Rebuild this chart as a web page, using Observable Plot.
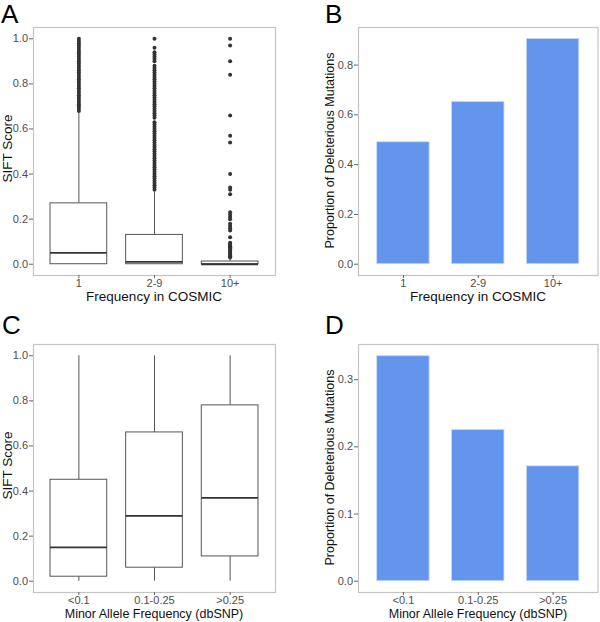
<!DOCTYPE html>
<html>
<head>
<meta charset="utf-8">
<script src="https://cdn.jsdelivr.net/npm/d3@7"></script>
<script src="https://cdn.jsdelivr.net/npm/@observablehq/plot@0.6"></script>
<style>
  html, body { margin: 0; padding: 0; background: #fff; }
  #root { position: relative; width: 600px; height: 622px; overflow: hidden; font-family: "Liberation Sans", Arial, sans-serif; }
  .panel { position: absolute; }
  .letter { position: absolute; font-size: 26px; line-height: 29px; color: #000; font-family: "Liberation Sans", Arial, sans-serif; }
  .xt { position: absolute; line-height: 14px; color: #111; text-align: center; white-space: nowrap; }
  .yt { position: absolute; line-height: 15px; color: #111; text-align: center; white-space: nowrap; transform: rotate(-90deg); }
</style>
</head>
<body>
<div id="root"></div>
<script>
// ---------- Data ----------
// Panel A: SIFT score by frequency in COSMIC (box summary)
const cosmicCats = ["1", "2-9", "10+"];
const cosmicLow = [0, 0, 0];
const cosmicQ1 = [0, 0, 0];
const cosmicMedian = [0.05, 0.01, 0.0];
const cosmicQ3 = [0.27, 0.13, 0.012];
const cosmicHigh = [0.67, 0.32, 0.025];
const outliers1 = [0.68,0.69,0.70,0.71,0.72,0.73,0.74,0.75,0.76,0.77,0.78,0.79,0.80,0.81,0.82,0.83,0.84,0.85,0.86,0.87,0.88,0.89,0.90,0.91,0.92,0.93,0.94,0.95,0.96,0.97,0.98,0.99,1.00];
const outliers29 = [0.33,0.34,0.35,0.36,0.37,0.38,0.39,0.40,0.41,0.42,0.43,0.44,0.45,0.46,0.47,0.48,0.49,0.50,0.51,0.52,0.53,0.54,0.55,0.56,0.57,0.58,0.59,0.60,0.61,0.62,0.63,0.65,0.66,0.67,0.68,0.69,0.70,0.71,0.72,0.73,0.74,0.75,0.76,0.77,0.78,0.79,0.80,0.81,0.82,0.83,0.84,0.85,0.86,0.87,0.88,0.90,0.91,0.92,0.93,0.94,0.96,1.00];
const outliers10 = [1.00,0.97,0.90,0.84,0.66,0.57,0.54,0.40,0.34,0.33,0.31,0.23,0.22,0.21,0.20,0.18,0.17,0.16,0.15,0.12,0.095,0.09,0.085,0.08,0.075,0.07,0.065,0.06,0.055,0.05,0.045,0.04,0.035,0.03];

// Panel B: proportion of deleterious mutations by COSMIC frequency
const cosmicProportion = [0.49, 0.652, 0.905];

// Panel C: SIFT score by minor allele frequency (box summary)
const mafCats = ["<0.1", "0.1-0.25", ">0.25"];
const mafLow = [0, 0, 0];
const mafQ1 = [0.02, 0.06, 0.11];
const mafMedian = [0.15, 0.29, 0.37];
const mafQ3 = [0.45, 0.66, 0.78];
const mafHigh = [1.0, 1.0, 1.0];

// Panel D: proportion of deleterious mutations by minor allele frequency
const mafProportion = [0.335, 0.225, 0.171];

// Tick labels
const siftTicks = [0, 0.2, 0.4, 0.6, 0.8, 1.0];
const propTicksB = [0, 0.2, 0.4, 0.6, 0.8];
const propTicksD = [0, 0.1, 0.2, 0.3];

// Titles
const titleSift = "SIFT Score";
const titleProp = "Proportion of Deleterious Mutations";
const titleCosmic = "Frequency in COSMIC";
const titleMaf = "Minor Allele Frequency (dbSNP)";

// ---------- Build tables ----------
const boxRows = (cats, lo, q1, med, q3, hi) =>
  cats.map((c, i) => ({cat: c, lo: lo[i], q1: q1[i], med: med[i], q3: q3[i], hi: hi[i]}));
const cosmicBoxes = boxRows(cosmicCats, cosmicLow, cosmicQ1, cosmicMedian, cosmicQ3, cosmicHigh);
const mafBoxes = boxRows(mafCats, mafLow, mafQ1, mafMedian, mafQ3, mafHigh);
const cosmicOutliers = [
  ...outliers1.map(v => ({cat: "1", v})),
  ...outliers29.map(v => ({cat: "2-9", v})),
  ...outliers10.map(v => ({cat: "10+", v}))
];
const cosmicBars = cosmicCats.map((c, i) => ({cat: c, p: cosmicProportion[i]}));
const mafBars = mafCats.map((c, i) => ({cat: c, p: mafProportion[i]}));

const FONT = "Liberation Sans, Arial, sans-serif";
const root = document.getElementById("root");

function place(node, left, top) {
  const d = document.createElement("div");
  d.className = "panel";
  d.style.left = left + "px";
  d.style.top = top + "px";
  d.appendChild(node);
  root.appendChild(d);
}

function xScale(cats, width) {
  return {type: "band", domain: cats, paddingInner: 1 - width, paddingOuter: 0.6 - width / 2, align: 0.5, round: false, label: null};
}

function axes(ticks) {
  return [
    Plot.axisX({tickSize: 3, tickPadding: 0.5, fontSize: 11, label: null, stroke: "#666"}),
    Plot.axisY({ticks, tickFormat: d3.format(".1f"), tickSize: 4, tickPadding: 1.5, fontSize: 11, label: null, stroke: "#666"})
  ];
}

function boxPanel(boxes, outliers, cats, ticks, m) {
  const marks = [
    Plot.frame({stroke: "#c4c4c4", strokeWidth: 1.2}),
    Plot.ruleX(boxes, {x: "cat", y1: "q3", y2: "hi", stroke: "#555", strokeWidth: 1}),
    Plot.ruleX(boxes, {x: "cat", y1: "lo", y2: "q1", stroke: "#555", strokeWidth: 1}),
    Plot.barY(boxes, {x: "cat", y1: "q1", y2: "q3", fill: "#fff", stroke: "#555", strokeWidth: 1}),
    Plot.tickY(boxes, {x: "cat", y: "med", stroke: "#333", strokeWidth: 1.8})
  ];
  if (outliers) marks.push(Plot.dot(outliers, {x: "cat", y: "v", r: 2, fill: "#333", stroke: "none"}));
  marks.push(...axes(ticks));
  return Plot.plot({
    width: 300, height: m.h,
    marginLeft: m.l, marginRight: m.r, marginTop: m.t, marginBottom: m.b,
    style: {fontFamily: FONT, color: "#4d4d4d", background: "transparent", overflow: "visible"},
    x: xScale(cats, 0.75),
    y: {domain: [-0.05, 1.05], label: null},
    marks
  });
}

function barPanel(bars, cats, ticks, domain, m) {
  return Plot.plot({
    width: 300, height: m.h,
    marginLeft: m.l, marginRight: m.r, marginTop: m.t, marginBottom: m.b,
    style: {fontFamily: FONT, color: "#4d4d4d", background: "transparent", overflow: "visible"},
    x: xScale(cats, 0.7),
    y: {domain, label: null},
    marks: [
      Plot.frame({stroke: "#c4c4c4", strokeWidth: 1.2}),
      Plot.barY(bars, {x: "cat", y: "p", fill: "#6495ED", stroke: "#c9d8f8", strokeWidth: 0.8}),
      ...axes(ticks)
    ]
  });
}

const mTop = {h: 310, t: 27, b: 35};
const mBot = {h: 311, t: 33, b: 30};

place(boxPanel(cosmicBoxes, cosmicOutliers, cosmicCats, siftTicks, {...mTop, l: 33, r: 25}), 0, 0);
place(barPanel(cosmicBars, cosmicCats, propTicksB, [-0.0453, 0.951], {...mTop, l: 58, r: 2.5}), 300, 0);
place(boxPanel(mafBoxes, null, mafCats, siftTicks, {...mBot, l: 33, r: 25}), 0, 311);
place(barPanel(mafBars, mafCats, propTicksD, [-0.0168, 0.3524], {...mBot, l: 58, r: 2.5}), 300, 311);

// Titles and panel letters
function letter(txt, left, top) {
  const d = document.createElement("div");
  d.className = "letter"; d.textContent = txt;
  d.style.left = left + "px"; d.style.top = top + "px";
  root.appendChild(d);
}
function xTitle(txt, cx, top, size) {
  const d = document.createElement("div");
  d.className = "xt"; d.textContent = txt;
  d.style.fontSize = size + "px";
  d.style.width = "300px";
  d.style.left = (cx - 150) + "px"; d.style.top = top + "px";
  root.appendChild(d);
}
function yTitle(txt, cx, cy, size) {
  const d = document.createElement("div");
  d.className = "yt"; d.textContent = txt;
  d.style.fontSize = size + "px";
  d.style.width = "300px";
  d.style.left = (cx - 150) + "px"; d.style.top = (cy - 7.5) + "px";
  root.appendChild(d);
}
letter("A", 1, 0);
letter("B", 325, 0);
letter("C", 2, 311);
letter("D", 325, 311);

xTitle(titleCosmic, 154, 290, 13.5);
xTitle(titleCosmic, 478, 290, 13.5);
xTitle(titleMaf, 154, 606.5, 12.5);
xTitle(titleMaf, 478, 606.5, 12.5);

yTitle(titleSift, 6.5, 148, 13.5);
yTitle(titleProp, 330, 150, 12.5);
yTitle(titleSift, 6.5, 465, 13.5);
yTitle(titleProp, 330, 467, 12.5);
</script>
</body>
</html>
